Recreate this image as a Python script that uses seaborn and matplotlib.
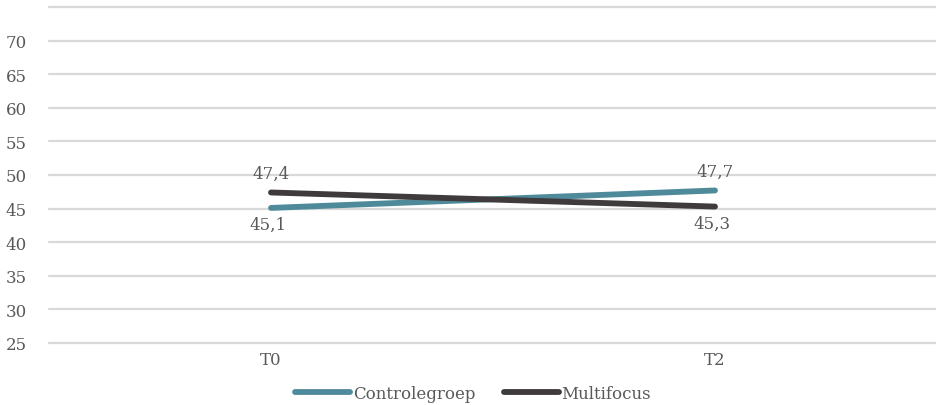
import matplotlib
matplotlib.use("Agg")
import matplotlib.pyplot as plt
import seaborn as sns
import pandas as pd

moments = ["T0", "T2"]
controlegroep = [45.1, 47.7]
multifocus = [47.4, 45.3]
series_names = ["Controlegroep", "Multifocus"]
y_ticks = [25, 30, 35, 40, 45, 50, 55, 60, 65, 70, 75]

colors = {"Controlegroep": "#4f8a9b", "Multifocus": "#3f3a3b"}
text_color = "#595959"

sns.set_theme(style="white")
plt.rcParams["font.family"] = ["DejaVu Serif"]

df = pd.DataFrame({
    "moment": moments * 2,
    "x": list(range(len(moments))) * 2,
    "waarde": controlegroep + multifocus,
    "groep": [series_names[0]] * len(moments) + [series_names[1]] * len(moments),
})

fig = plt.figure(figsize=(9.37, 4.06), dpi=100)
ax = fig.add_axes([49 / 937, 1 - 344 / 406, 1 - 49 / 937, (344 - 8) / 406])

sns.lineplot(data=df, x="x", y="waarde", hue="groep", palette=colors,
             linewidth=4.2, ax=ax, legend=False)
for line in ax.get_lines():
    line.set_solid_capstyle("round")

ax.set_xlim(-0.5, len(moments) - 0.5)
ax.set_ylim(25, 75)
ax.set_yticks(y_ticks)
ax.set_yticklabels([str(v) if v < 75 else "" for v in y_ticks])
ax.set_xticks(range(len(moments)))
ax.set_xticklabels(moments)
ax.set_xlabel("")
ax.set_ylabel("")
ax.grid(axis="y", color="#d9d9d9", linewidth=1.6)
ax.grid(axis="x", visible=False)
for gl in ax.yaxis.get_gridlines():
    gl.set_clip_on(False)
for s in ax.spines.values():
    s.set_visible(False)
ax.tick_params(axis="y", length=0, pad=16, labelsize=12, labelcolor=text_color)
ax.tick_params(axis="x", length=0, pad=6, labelsize=12, labelcolor=text_color)

def fmt(v):
    return f"{v:.1f}".replace(".", ",")

# value labels: the higher series above, the lower below
for i in range(len(moments)):
    a, b = controlegroep[i], multifocus[i]
    hi, lo = (a, b) if a > b else (b, a)
    ax.annotate(fmt(hi), (i, hi), xytext=(0, 8), textcoords="offset points",
                ha="center", va="bottom", fontsize=12, color=text_color)
    ax.annotate(fmt(lo), (i, lo), xytext=(-2, -6), textcoords="offset points",
                ha="center", va="top", fontsize=12, color=text_color)

handles = [plt.Line2D([], [], color=colors[n], linewidth=4.2, solid_capstyle="round")
           for n in series_names]
fig.legend(handles, series_names, loc="lower center", bbox_to_anchor=(0.505, -0.03),
           ncol=2, frameon=False, fontsize=12, handlelength=3.3, handletextpad=0.15,
           columnspacing=1.7, labelcolor=text_color)

fig.savefig("out.png", dpi=100)
